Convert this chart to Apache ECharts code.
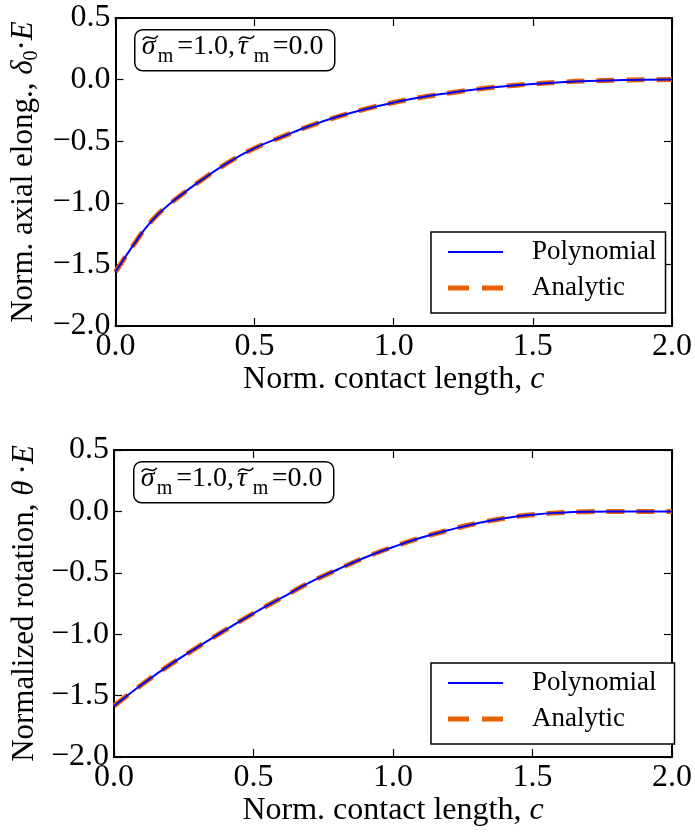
<!DOCTYPE html>
<html>
<head>
<meta charset="utf-8">
<script src="https://cdn.jsdelivr.net/npm/echarts@6/dist/echarts.min.js"></script>
<style>
html,body{margin:0;padding:0;background:#fff;}
#chart{width:695px;height:834px;}
</style>
</head>
<body>
<div id="chart"></div>
<script>
// ---- data ----
const cTop = [0, 0.025, 0.05, 0.075, 0.1, 0.15, 0.2, 0.25, 0.3, 0.4, 0.5, 0.6, 0.7, 0.8, 0.9, 1.0, 1.1, 1.2, 1.3, 1.4, 1.5, 1.6, 1.7, 1.8, 1.9, 2.0];
const elongPolynomial = [-1.56, -1.475, -1.39, -1.31, -1.23, -1.10, -1.00, -0.913, -0.83, -0.68, -0.557, -0.463, -0.375, -0.30, -0.238, -0.186, -0.143, -0.108, -0.078, -0.054, -0.035, -0.021, -0.011, -0.005, -0.001, 0.0];
const elongAnalytic   = [-1.56, -1.475, -1.39, -1.31, -1.23, -1.10, -1.00, -0.913, -0.83, -0.68, -0.557, -0.463, -0.375, -0.30, -0.238, -0.186, -0.143, -0.108, -0.078, -0.054, -0.035, -0.021, -0.011, -0.005, -0.001, 0.0];

const cBottom = [0, 0.1, 0.2, 0.3, 0.4, 0.5, 0.6, 0.7, 0.8, 0.9, 1.0, 1.1, 1.2, 1.3, 1.4, 1.5, 1.6, 1.7, 1.8, 1.9, 2.0];
const rotPolynomial = [-1.585, -1.41, -1.25, -1.105, -0.965, -0.83, -0.705, -0.58, -0.475, -0.375, -0.29, -0.215, -0.152, -0.098, -0.056, -0.027, -0.010, -0.002, 0.0, 0.0, 0.0];
const rotAnalytic   = [-1.585, -1.41, -1.25, -1.105, -0.965, -0.83, -0.705, -0.58, -0.475, -0.375, -0.29, -0.215, -0.152, -0.098, -0.056, -0.027, -0.010, -0.002, 0.0, 0.0, 0.0];

const xTicks = [0.0, 0.5, 1.0, 1.5, 2.0];
const yTicks = [-2.0, -1.5, -1.0, -0.5, 0.0, 0.5];
const seriesNames = ['Polynomial', 'Analytic'];

// ---- chart ----
const SERIF = "'Liberation Serif', 'Times New Roman', 'DejaVu Serif', serif";
const BLUE = '#0000ff';
const ORANGE = '#E66100';
const pairs = (xs, ys) => xs.map((x, i) => [x, ys[i]]);
const fmt = v => (v < 0 ? '\u2212' : '') + Math.abs(v).toFixed(1);

const grids = [
  {left: 114, top: 18, width: 559, height: 308},
  {left: 114, top: 450, width: 559, height: 307}
];

const tStyle = (size, extra) => Object.assign({fontFamily: SERIF, fontSize: size, fontWeight: 'normal', color: '#000'}, extra || {});

function xAxes(gi, name) {
  const common = {
    type: 'value', gridIndex: gi, min: xTicks[0], max: xTicks[xTicks.length - 1], interval: 0.5,
    splitLine: {show: false},
    axisLine: {show: true, onZero: false, lineStyle: {color: '#000', width: 2}},
    axisTick: {show: true, inside: true, length: 8, lineStyle: {color: '#000', width: 1.2}}
  };
  return [
    Object.assign({}, common, {
      position: 'bottom',
      axisLabel: Object.assign({show: true, formatter: fmt, margin: 5}, tStyle(32)),
      name: name, nameLocation: 'middle', nameGap: 35,
      nameTextStyle: tStyle(32, {rich: {n: tStyle(32), i: tStyle(32, {fontStyle: 'italic'})}})
    }),
    Object.assign({}, common, {position: 'top', axisLabel: {show: false}})
  ];
}
function yAxes(gi, name) {
  const common = {
    type: 'value', gridIndex: gi, min: yTicks[0], max: yTicks[yTicks.length - 1], interval: 0.5,
    splitLine: {show: false},
    axisLine: {show: true, onZero: false, lineStyle: {color: '#000', width: 2}},
    axisTick: {show: true, inside: true, length: 8, lineStyle: {color: '#000', width: 1.2}}
  };
  return [
    Object.assign({}, common, {
      position: 'left',
      axisLabel: Object.assign({show: true, formatter: fmt, margin: 5}, tStyle(32)),
      name: name, nameLocation: 'middle', nameGap: 68, nameRotate: 90,
      nameTextStyle: tStyle(31, {
        rich: {
          n: tStyle(31, {lineHeight: 36}),
          i: tStyle(31, {fontStyle: 'italic', lineHeight: 36}),
          s: tStyle(20, {lineHeight: 20, verticalAlign: 'bottom'})
        }})
    }),
    Object.assign({}, common, {position: 'right', axisLabel: {show: false}})
  ];
}

// annotation box "σ̃m = 1.0, τ̃m = 0.0"
const fontMain = "28px 'Liberation Serif'";
const fontItal = "italic 28px 'Liberation Serif'";
const fontSub = "20px 'Liberation Serif'";
function annotation(left, top) {
  const txt = (x, y, text, font) => ({type: 'text', x: x, y: y, style: {text: text, font: font, fill: '#000', align: 'left', verticalAlign: 'middle'}});
  const tilde = (x) => ({type: 'bezierCurve', shape: {x1: x, y1: 10, cpx1: x + 5, cpy1: 2.5, cpx2: x + 10, cpy2: 13.5, x2: x + 15, y2: 6}, style: {stroke: '#000', lineWidth: 1.4, fill: null}});
  return {
    type: 'group', left: left, top: top, z: 10,
    children: [
      {type: 'rect', shape: {x: 0, y: 0, width: 200, height: 41, r: 8}, style: {fill: '#fff', stroke: '#000', lineWidth: 1.5}},
      txt(7, 17, '\u03c3', fontItal),
      tilde(8),
      txt(23, 27, 'm', fontSub),
      txt(42.5, 17, '=1.0,', fontMain),
      txt(103, 17, '\u03c4', fontItal),
      tilde(104.5),
      txt(119, 27, 'm', fontSub),
      txt(138, 17, '=0.0', fontMain)
    ]
  };
}

function lineSeries(name, gi, data) {
  const isPoly = name === 'Polynomial';
  return {
    name: name, type: 'line', xAxisIndex: gi * 2, yAxisIndex: gi * 2,
    data: data, showSymbol: false, symbol: 'none', smooth: 0.5,
    z: isPoly ? 3 : 2,
    lineStyle: isPoly ? {color: BLUE, width: 2} : {color: ORANGE, width: 5, type: [18, 12]},
    itemStyle: {color: isPoly ? BLUE : ORANGE},
    animation: false
  };
}

const legendData = [
  {name: 'Polynomial', icon: 'path://M0,0H55V2H0Z', itemStyle: {color: BLUE}},
  {name: 'Analytic', icon: 'path://M0,0H21V5H0ZM34,0H55V5H34Z', itemStyle: {color: ORANGE}}
];

const legendCommon = {
  orient: 'vertical', left: 431, itemWidth: 55, itemHeight: 14, itemGap: 6,
  borderColor: '#000', borderWidth: 1.5, borderRadius: 0, backgroundColor: '#fff',
  textStyle: tStyle(27, {lineHeight: 30, padding: [0, 0, 0, 24]}),
  data: legendData, selectedMode: false
};

const option = {
  animation: false,
  backgroundColor: '#fff',
  grid: grids,
  xAxis: [...xAxes(0, '{n|Norm. contact length, }{i|c}'), ...xAxes(1, '{n|Norm. contact length, }{i|c}')],
  yAxis: [...yAxes(0, '{n|Norm. axial elong., }{i|\u03b4}{s|0}{n|\u00b7}{i|E}'), ...yAxes(1, '{n|Normalized rotation, }{i|\u03b8\u2009}{n|\u00b7}{i|E}')],
  graphic: [annotation(134, 29), annotation(133, 461)],
  legend: [
    Object.assign({}, legendCommon, {top: 232, padding: [5, 9, 10, 17]}),
    Object.assign({}, legendCommon, {top: 663, padding: [5, 18, 10, 17]})
  ],
  series: [
    lineSeries('Analytic', 0, pairs(cTop, elongAnalytic)),
    lineSeries('Polynomial', 0, pairs(cTop, elongPolynomial)),
    lineSeries('Analytic', 1, pairs(cBottom, rotAnalytic)),
    lineSeries('Polynomial', 1, pairs(cBottom, rotPolynomial))
  ]
};

const chart = echarts.init(document.getElementById('chart'), null, {renderer: 'canvas'});
chart.setOption(option);
</script>
</body>
</html>
